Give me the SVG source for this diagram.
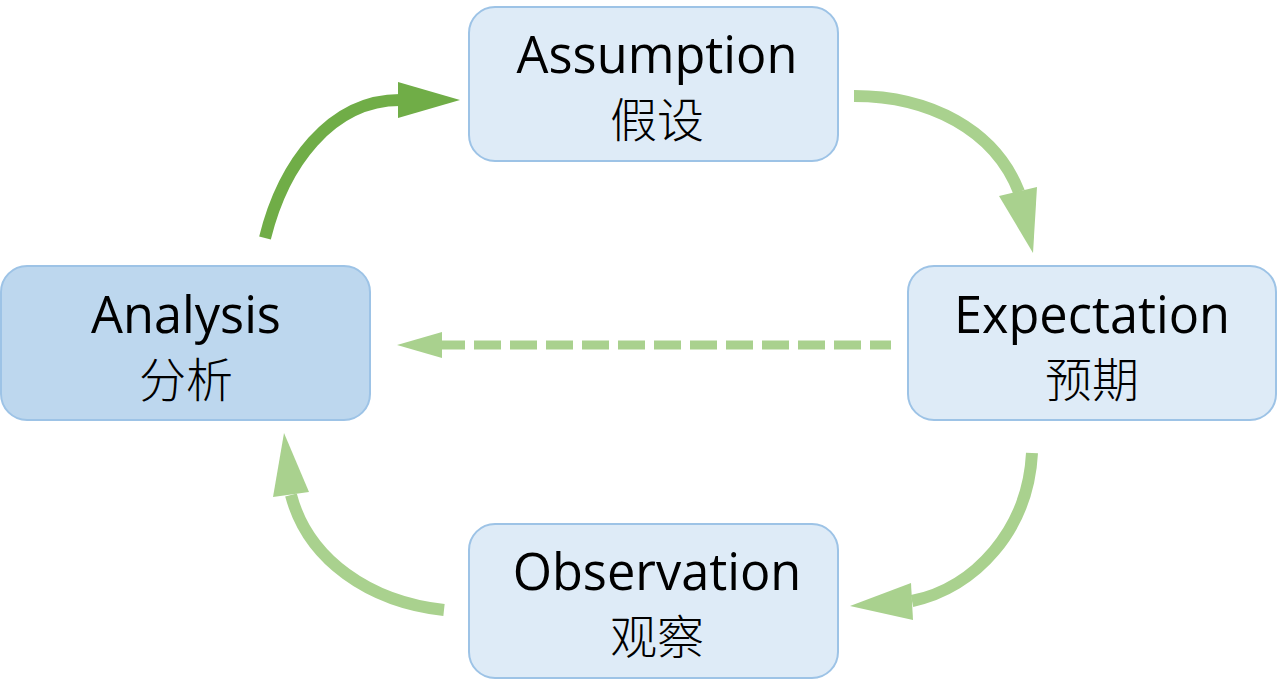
<svg xmlns="http://www.w3.org/2000/svg" width="1278" height="692" viewBox="0 0 1278 692">
<style>
.box{fill:#DEEBF7;stroke:#9DC3E6;stroke-width:2}
.box.dark{fill:#BDD7EE}
.en{font-family:"Open Sans","Noto Sans",sans-serif;font-size:50.5px;fill:#000;text-anchor:middle}
.zh{font-family:"Noto Sans CJK SC",sans-serif;font-size:47px;font-weight:300;fill:#000;text-anchor:middle}
.arc{fill:none;stroke-width:12;stroke-linecap:butt}
.dk{stroke:#70AD47}
.lt{stroke:#A9D18E}
.hdk{fill:#70AD47}
.hlt{fill:#A9D18E}
</style>
<rect width="1278" height="692" fill="#FFFFFF"/>
<g id="assumption">
<rect class="box" x="469" y="7" width="369" height="154" rx="26"/>
<text class="en" x="657" y="73">Assumption</text>
<text class="zh" x="657" y="137">假设</text>
</g>
<g id="expectation">
<rect class="box" x="908" y="266" width="368" height="154" rx="26"/>
<text class="en" x="1092" y="333">Expectation</text>
<text class="zh" x="1092" y="397">预期</text>
</g>
<g id="observation">
<rect class="box" x="469" y="524" width="369" height="154" rx="26"/>
<text class="en" x="657" y="590">Observation</text>
<text class="zh" x="657" y="654">观察</text>
</g>
<g id="analysis">
<rect class="box dark" x="1" y="266" width="369" height="154" rx="26"/>
<text class="en" x="186" y="333">Analysis</text>
<text class="zh" x="186" y="397">分析</text>
</g>
<g id="connectors">
<path class="arc dk" d="M 265 238 C 283 165 330 100 400 100"/>
<polygon class="hdk" points="398,82 460,100 398,118"/>
<path class="arc lt" d="M 854 96 C 930 96 995 130 1019 192"/>
<polygon class="hlt" points="999,196 1033,253 1037,187"/>
<path class="arc lt" d="M 1032 453 C 1028 530 975 588 912 601"/>
<polygon class="hlt" points="911,583 850,606 913,620"/>
<path class="arc lt" d="M 444 610 C 370 602 308 560 291 495"/>
<polygon class="hlt" points="273,497 284,433 309,492"/>
<path fill="none" stroke="#A9D18E" stroke-width="9" stroke-dasharray="27 9" stroke-dashoffset="4" d="M 442 345 L 891 345"/>
<polygon class="hlt" points="442,332 397,345 442,358"/>
</g>
</svg>
